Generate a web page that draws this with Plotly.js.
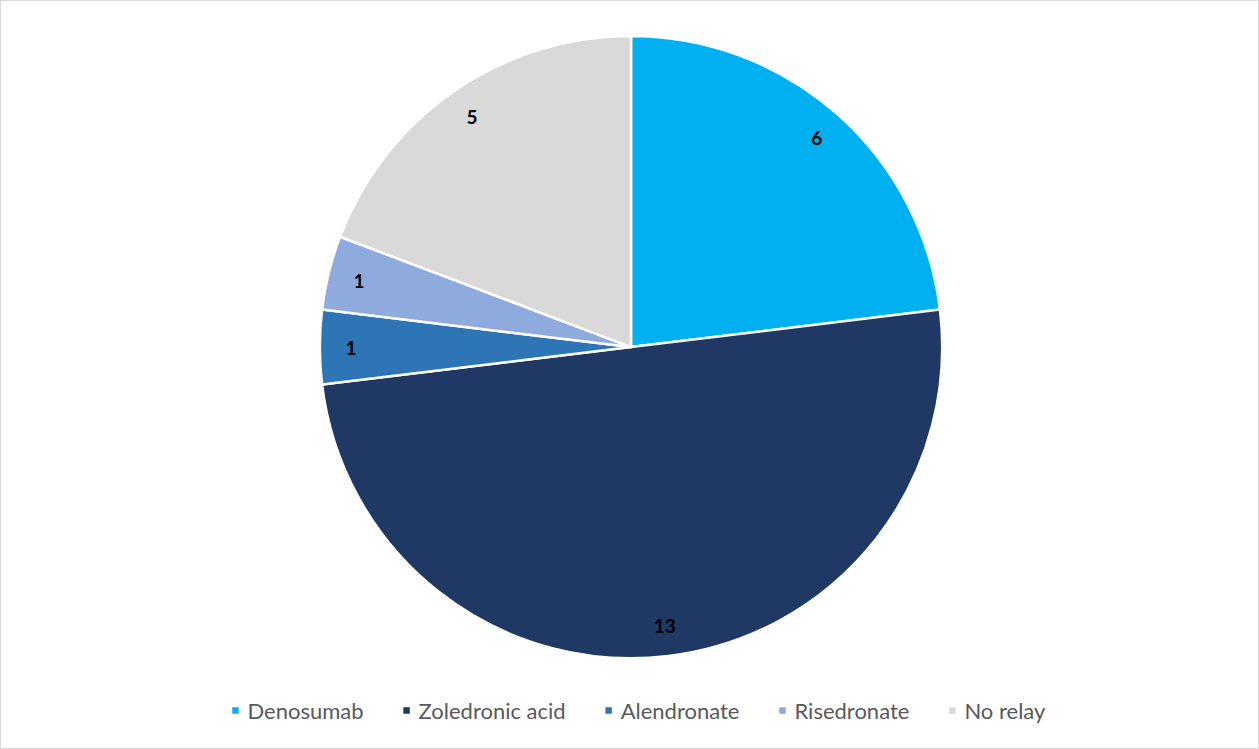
<!DOCTYPE html>
<html>
<head>
<meta charset="utf-8">
<script src="https://cdn.plot.ly/plotly-3.0.1.min.js"></script>
<style>
html,body{margin:0;padding:0;background:#fff;}
#chart{width:1259px;height:749px;box-sizing:border-box;border:1px solid #d9d9d9;}
#chart .legendpoints path{transform:translate(38px,0px) scale(0.68);}
</style>
</head>
<body>
<div id="chart"></div>
<script>
var categories = ["Denosumab", "Zoledronic acid", "Alendronate", "Risedronate", "No relay"];
var counts = [6, 13, 1, 1, 5];
var sliceColors = ["#00B0F0", "#1F3864", "#2E75B6", "#8FAADC", "#D9D9D9"];

var pieDomain = {x: [0.2534, 0.749], y: [0.1201, 0.9533]};

var slices = {
  type: "pie",
  labels: categories,
  values: counts,
  sort: false,
  direction: "clockwise",
  rotation: 0,
  marker: {colors: sliceColors, line: {color: "#ffffff", width: 2.5}},
  textinfo: "none",
  hoverinfo: "label+value",
  domain: pieDomain
};

// transparent overlay ring used only to place the value labels near the outer edge
var labelRing = {
  type: "pie",
  labels: categories,
  values: counts,
  sort: false,
  direction: "clockwise",
  rotation: 0,
  hole: 0.8,
  showlegend: false,
  marker: {colors: categories.map(function(){return "rgba(0,0,0,0)";}), line: {width: 0}},
  textinfo: "value",
  textposition: "inside",
  insidetextorientation: "horizontal",
  textfont: {family: "Lato, sans-serif", size: 19, color: "#000000", weight: "bold"},
  hoverinfo: "skip",
  domain: pieDomain
};

var layout = {
  width: 1257, height: 747,
  margin: {l: 0, r: 0, t: 0, b: 0},
  paper_bgcolor: "#ffffff",
  showlegend: true,
  legend: {
    orientation: "h", x: 0.496, xanchor: "center", y: 0.05, yanchor: "middle",
    font: {family: "Lato, sans-serif", size: 22, color: "#595959"},
    itemwidth: 40
  }
};

Plotly.newPlot("chart", [slices, labelRing], layout, {displayModeBar: false, staticPlot: true});
</script>
</body>
</html>
